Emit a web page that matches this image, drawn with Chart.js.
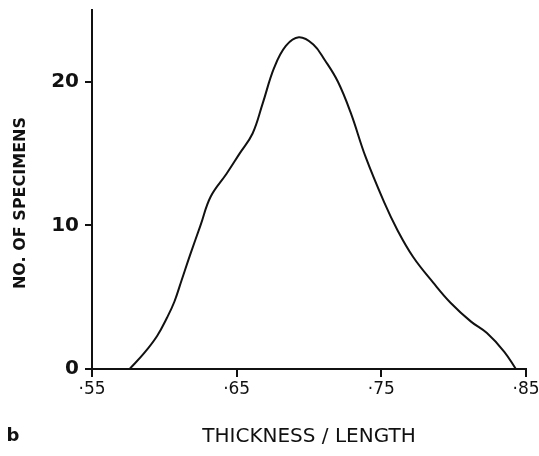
<!DOCTYPE html>
<html>
<head>
<meta charset="utf-8">
<script src="https://cdn.jsdelivr.net/npm/chart.js@4.4.1/dist/chart.umd.min.js"></script>
<style>
  html, body { margin: 0; padding: 0; background: #fff; }
  #wrap { width: 539px; height: 456px; position: relative; }
</style>
</head>
<body>
<div id="wrap"><canvas id="c" width="539" height="456"></canvas></div>
<script>
// Thickness/length ratio (x) and number of specimens (y)
const ratioValues = [0.576, 0.586, 0.595, 0.602, 0.607, 0.612, 0.618, 0.625, 0.632, 0.643, 0.652, 0.661, 0.668, 0.676, 0.684, 0.693, 0.703, 0.711, 0.720, 0.729, 0.739, 0.752, 0.761, 0.772, 0.786, 0.798, 0.812, 0.823, 0.835, 0.843];
const specimenCounts = [0, 1.1, 2.3, 3.6, 4.7, 6.2, 8.0, 10.0, 12.0, 13.6, 15.0, 16.4, 18.5, 21.0, 22.5, 23.1, 22.6, 21.5, 20.0, 17.8, 14.8, 11.6, 9.7, 7.8, 6.0, 4.6, 3.3, 2.5, 1.2, 0];
const xTickValues = [0.55, 0.65, 0.75, 0.85];
const xTickLabels = ['·55', '·65', '·75', '·85'];
const yTickValues = [0, 10, 20];
const yTickLabels = ['0', '10', '20'];
const xTitle = 'THICKNESS / LENGTH';
const yTitle = 'NO. OF SPECIMENS';
const panelLabel = 'b';

const points = ratioValues.map((x, i) => ({ x: x, y: specimenCounts[i] }));

const textPlugin = {
  id: 'extraText',
  afterDraw(chart) {
    const ctx = chart.ctx;
    ctx.save();
    ctx.fillStyle = '#111';
    ctx.font = 'bold 16px "DejaVu Sans"';
    ctx.textAlign = 'center';
    ctx.textBaseline = 'middle';
    ctx.translate(21, 203);
    ctx.rotate(-Math.PI / 2);
    ctx.fillText(yTitle, 0, 0);
    ctx.restore();
    ctx.save();
    ctx.fillStyle = '#111';
    ctx.font = 'bold 18px "DejaVu Sans"';
    ctx.textAlign = 'center';
    ctx.textBaseline = 'middle';
    ctx.fillText(panelLabel, 13, 436);
    ctx.restore();
  }
};

new Chart(document.getElementById('c'), {
  type: 'scatter',
  data: {
    datasets: [{
      data: points,
      showLine: true,
      borderColor: '#111',
      borderWidth: 2,
      pointRadius: 0,
      tension: 0.4,
      fill: false
    }]
  },
  options: {
    responsive: false,
    animation: false,
    layout: { padding: { left: 0, right: 13, top: 10, bottom: 0 } },
    plugins: { legend: { display: false }, tooltip: { enabled: false } },
    scales: {
      x: {
        type: 'linear',
        min: 0.55,
        max: 0.85,
        afterBuildTicks(scale) { scale.ticks = xTickValues.map(v => ({ value: v })); },
        afterFit(scale) { scale.height = 87; scale.paddingLeft = 0; scale.paddingRight = 0; },
        grid: { display: true, drawOnChartArea: false, drawTicks: true, tickLength: 8, tickColor: '#111', lineWidth: 2 },
        border: { display: true, color: '#111', width: 2 },
        ticks: {
          color: '#111',
          font: { family: 'DejaVu Sans', size: 17 },
          padding: 2,
          maxRotation: 0,
          autoSkip: false,
          callback(v, i) { return xTickLabels[i]; }
        },
        title: {
          display: true,
          text: xTitle,
          color: '#111',
          font: { family: 'DejaVu Sans', size: 20 },
          padding: { top: 0, bottom: 7 }
        }
      },
      y: {
        type: 'linear',
        min: 0,
        max: 25,
        afterBuildTicks(scale) { scale.ticks = yTickValues.map(v => ({ value: v })); },
        afterFit(scale) { scale.width = 92; scale.paddingTop = 0; scale.paddingBottom = 0; },
        grid: { display: true, drawOnChartArea: false, drawTicks: true, tickLength: 7, tickColor: '#111', lineWidth: 2 },
        border: { display: true, color: '#111', width: 2 },
        ticks: {
          color: '#111',
          font: { family: 'DejaVu Sans', size: 20, weight: 'bold' },
          padding: 6,
          autoSkip: false,
          callback(v, i) { return yTickLabels[i]; }
        }
      }
    }
  },
  plugins: [textPlugin]
});
</script>
</body>
</html>
